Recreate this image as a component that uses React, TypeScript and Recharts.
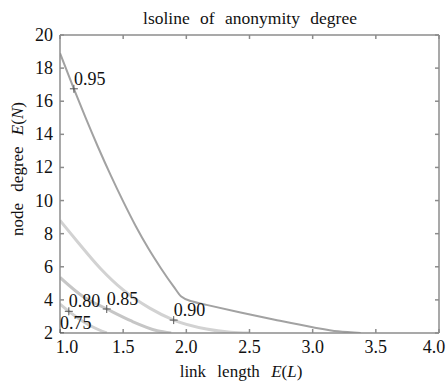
import React from 'react';
import { ComposedChart, Line, Scatter, XAxis, YAxis } from 'recharts';

const xTicks = [1.0, 1.5, 2.0, 2.5, 3.0, 3.5, 4.0];
const yTicks = [2, 4, 6, 8, 10, 12, 14, 16, 18, 20];

const iso095 = [
  { x: 1.0, y: 18.9 }, { x: 1.11, y: 16.75 }, { x: 1.2, y: 15.05 }, { x: 1.3, y: 13.25 },
  { x: 1.4, y: 11.55 }, { x: 1.5, y: 9.95 }, { x: 1.6, y: 8.45 }, { x: 1.7, y: 7.1 },
  { x: 1.8, y: 5.9 }, { x: 1.9, y: 4.8 }, { x: 1.96, y: 4.2 }, { x: 2.05, y: 3.9 },
  { x: 2.16, y: 3.7 }, { x: 2.42, y: 3.25 }, { x: 2.7, y: 2.8 }, { x: 3.0, y: 2.35 },
  { x: 3.2, y: 2.1 }, { x: 3.38, y: 2.0 },
];
const iso090 = [
  { x: 1.0, y: 8.8 }, { x: 1.14, y: 7.5 }, { x: 1.32, y: 5.9 }, { x: 1.5, y: 4.6 },
  { x: 1.71, y: 3.5 }, { x: 1.9, y: 2.78 }, { x: 2.16, y: 2.24 }, { x: 2.35, y: 2.05 },
  { x: 2.5, y: 2.0 },
];
const iso085 = [
  { x: 1.0, y: 5.36 }, { x: 1.19, y: 4.16 }, { x: 1.37, y: 3.45 }, { x: 1.56, y: 2.74 },
  { x: 1.77, y: 2.14 }, { x: 1.88, y: 2.0 },
];
const iso080 = [
  { x: 1.0, y: 3.75 }, { x: 1.07, y: 3.31 }, { x: 1.24, y: 2.44 }, { x: 1.37, y: 2.0 },
];
const markers = [
  { x: 1.11, y: 16.75, label: '0.95' },
  { x: 1.07, y: 3.31, label: '0.80' },
  { x: 1.37, y: 3.45, label: '0.85' },
  { x: 1.9, y: 2.78, label: '0.90' },
  { x: 1.0, y: 2.0, label: '0.75' },
];

const FONT = 'Liberation Serif';
const FRAME = '#8c8c8c';

const PlusMarker = (props: any) => {
  const { cx, cy, payload } = props;
  if (cx == null || cy == null) return null;
  return (
    <g>
      <line x1={cx - 4} y1={cy} x2={cx + 4} y2={cy} stroke="#555" strokeWidth={1} />
      <line x1={cx} y1={cy - 4} x2={cx} y2={cy + 4} stroke="#555" strokeWidth={1} />
      <text x={cx} y={cy - 4} style={{ fontFamily: FONT, fontSize: 18 }} fill="#111">
        {payload.label}
      </text>
    </g>
  );
};

const XTick = (props: any) => {
  const { x, y, payload } = props;
  const v = payload.value;
  const dx = v === 1 ? 7 : v === 4 ? -5 : 0;
  return (
    <text x={x + dx} y={y + 14} textAnchor="middle" style={{ fontFamily: FONT, fontSize: 18 }} fill="#111">
      {Number(v).toFixed(1)}
    </text>
  );
};

const YTick = (props: any) => {
  const { x, y, payload } = props;
  return (
    <text x={x} y={y + 6} textAnchor="end" style={{ fontFamily: FONT, fontSize: 18 }} fill="#111">
      {payload.value}
    </text>
  );
};

export default function App() {
  return (
    <div style={{ position: 'absolute', left: 0, top: 0, width: 447, height: 382, background: '#fff', fontFamily: FONT }}>
      <ComposedChart width={447} height={382} margin={{ top: 30, right: 3, bottom: 19, left: 20 }}>
        <XAxis
          xAxisId="b"
          dataKey="x"
          type="number"
          domain={[1, 4]}
          ticks={xTicks}
          allowDataOverflow
          height={30}
          tickSize={-4}
          tickMargin={10}
          stroke={FRAME}
          strokeWidth={1.5}
          tick={<XTick />}
        />
        <XAxis
          xAxisId="t"
          orientation="top"
          dataKey="x"
          type="number"
          domain={[1, 4]}
          ticks={xTicks}
          allowDataOverflow
          tickFormatter={() => ''}
          height={5}
          tickSize={-4}
          stroke={FRAME}
          strokeWidth={1.5}
        />
        <YAxis
          yAxisId="l"
          type="number"
          domain={[2, 20]}
          ticks={yTicks}
          allowDataOverflow
          width={40}
          tickSize={-4}
          tickMargin={11}
          stroke={FRAME}
          strokeWidth={1.5}
          tick={<YTick />}
        />
        <YAxis
          yAxisId="r"
          orientation="right"
          type="number"
          domain={[2, 20]}
          ticks={yTicks}
          allowDataOverflow
          width={5}
          tickSize={-4}
          tickFormatter={() => ''}
          stroke={FRAME}
          strokeWidth={1.5}
        />
        <Line xAxisId="b" yAxisId="l" data={iso080} dataKey="y" type="monotone" stroke="#d0d0d0" strokeWidth={3} dot={false} isAnimationActive={false} />
        <Line xAxisId="b" yAxisId="l" data={iso085} dataKey="y" type="monotone" stroke="#c6c6c6" strokeWidth={3} dot={false} isAnimationActive={false} />
        <Line xAxisId="b" yAxisId="l" data={iso090} dataKey="y" type="monotone" stroke="#d2d2d2" strokeWidth={3} dot={false} isAnimationActive={false} />
        <Line xAxisId="b" yAxisId="l" data={iso095} dataKey="y" type="monotone" stroke="#a2a2a2" strokeWidth={2} dot={false} isAnimationActive={false} />
        <Scatter xAxisId="b" yAxisId="l" data={markers} dataKey="y" shape={<PlusMarker />} isAnimationActive={false} />
        <text x={250} y={24} textAnchor="middle" style={{ fontFamily: FONT, fontSize: 17.5, wordSpacing: 6 }} fill="#111">
          lsoline of anonymity degree
        </text>
        <text x={241} y={377} textAnchor="middle" style={{ fontFamily: FONT, fontSize: 17, wordSpacing: 7 }} fill="#111">
          link length <tspan fontStyle="italic">E</tspan>(<tspan fontStyle="italic">L</tspan>)
        </text>
        <text
          x={23}
          y={169}
          textAnchor="middle"
          style={{ fontFamily: FONT, fontSize: 17, wordSpacing: 7 }}
          fill="#111"
          transform="rotate(-90 23 169)"
        >
          node degree <tspan fontStyle="italic">E</tspan>(<tspan fontStyle="italic">N</tspan>)
        </text>
      </ComposedChart>
    </div>
  );
}
